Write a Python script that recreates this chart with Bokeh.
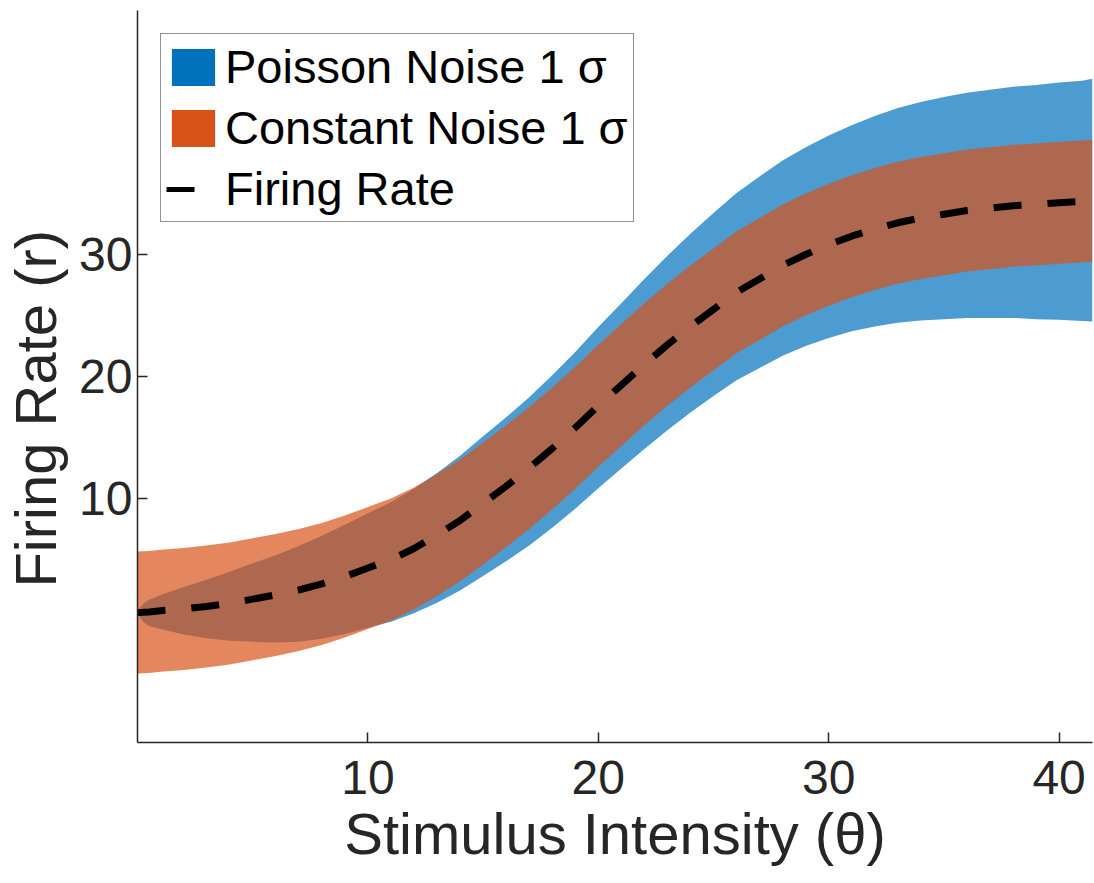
from bokeh.plotting import figure
from bokeh.models import Range1d, FixedTicker, Legend, LegendItem, ColumnDataSource
from bokeh.embed import file_html
from bokeh.resources import INLINE

# ---- data ----
theta = [0, 0.25, 0.5, 1, 2, 3, 4, 5, 6, 7, 8, 9, 10, 11, 12, 13, 14, 15, 16, 17,
         18, 19, 20, 21, 22, 23, 24, 25, 26, 27, 28, 29, 30, 31, 32, 33, 34, 35,
         36, 37, 38, 39, 40, 41, 41.45]
rate = [0.65, 0.67, 0.7, 0.8, 0.95, 1.15, 1.4, 1.75, 2.1, 2.5, 3.0, 3.6, 4.3, 5.0,
        5.9, 7.0, 8.2, 9.6, 11.0, 12.5, 14.1, 15.8, 17.6, 19.3, 21.0, 22.6, 24.1,
        25.5, 26.9, 28.0, 29.1, 30.0, 30.8, 31.5, 32.1, 32.6, 33.0, 33.3, 33.6,
        33.8, 34.0, 34.1, 34.25, 34.35, 34.4]
# Poisson 1-sigma band: distance of upper / lower edge from the rate curve
poisson_up = [0.1, 0.7, 1.0, 1.3, 1.8, 2.2, 2.6, 2.95, 3.25, 3.6, 3.95, 4.25, 4.5,
              4.7, 4.9, 5.1, 5.3, 5.5, 5.65, 5.8, 6.0, 6.2, 6.45, 6.7, 7.0, 7.3,
              7.6, 7.9, 8.15, 8.4, 8.6, 8.8, 8.95, 9.1, 9.25, 9.4, 9.5, 9.6,
              9.65, 9.7, 9.75, 9.8, 9.85, 9.9, 10.0]
poisson_down = [0.1, 0.8, 1.15, 1.5, 2.1, 2.6, 3.05, 3.5, 3.9, 4.25, 4.5, 4.7, 4.9,
                5.1, 5.3, 5.55, 5.75, 5.95, 6.15, 6.35, 6.5, 6.65, 6.75, 6.85, 6.95,
                7.0, 7.05, 7.1, 7.2, 7.3, 7.4, 7.5, 7.65, 7.8, 8.0, 8.2, 8.4,
                8.6, 8.8, 9.0, 9.2, 9.4, 9.6, 9.8, 9.9]
const_sigma = 5.0

x_ticks = [10, 20, 30, 40]
y_ticks = [10, 20, 30]
labels = ["Poisson Noise 1 \u03c3", "Constant Noise 1 \u03c3", "Firing Rate"]

src = ColumnDataSource(dict(
    theta=theta,
    rate=rate,
    plo=[r - s for r, s in zip(rate, poisson_down)],
    phi=[r + s for r, s in zip(rate, poisson_up)],
    clo=[r - const_sigma for r in rate],
    chi=[r + const_sigma for r in rate],
))

BLUE = "#0072BD"
ORANGE = "#D95319"
INK = "#262626"
FONT = "Liberation Sans"

p = figure(width=1094, height=883, output_backend="svg", toolbar_location=None,
           x_range=Range1d(0, 41.45), y_range=Range1d(-10, 50),
           min_border_left=137, min_border_right=2, min_border_top=10,
           min_border_bottom=141)
p.outline_line_color = None
p.xgrid.visible = False
p.ygrid.visible = False
p.background_fill_color = "white"
p.border_fill_color = "white"

p.varea(x="theta", y1="plo", y2="phi", source=src, fill_color=BLUE, fill_alpha=0.7)
p.varea(x="theta", y1="clo", y2="chi", source=src, fill_color=ORANGE, fill_alpha=0.7)
p.line(x="theta", y="rate", source=src, line_color="black", line_width=7,
       line_dash="28 26")

# legend proxies (full-opacity swatches, drawn outside the visible range)
lg_blue = p.varea(x=[-10, -9], y1=[0, 0], y2=[1, 1], fill_color=BLUE)
lg_orange = p.varea(x=[-10, -9], y1=[0, 0], y2=[1, 1], fill_color=ORANGE)
lg_line = p.line(x=[-10, -9], y=[0, 0], line_color="black", line_width=5,
                 line_dash="28 80")

legend = Legend(items=[LegendItem(label=labels[0], renderers=[lg_blue]),
                       LegendItem(label=labels[1], renderers=[lg_orange]),
                       LegendItem(label=labels[2], renderers=[lg_line])],
                location="top_left")
legend.label_text_font = FONT
legend.label_text_font_size = "47px"
legend.label_text_color = "black"
legend.glyph_width = 54
legend.glyph_height = 46
legend.label_height = 46
legend.label_standoff = 5
legend.spacing = 6
legend.padding = 5
legend.margin = 23
legend.border_line_color = INK
legend.border_line_width = 1.5
legend.background_fill_color = "white"
legend.background_fill_alpha = 1.0
p.add_layout(legend)

for ax in (p.xaxis[0], p.yaxis[0]):
    ax.axis_line_color = INK
    ax.axis_line_width = 1.5
    ax.major_tick_line_color = INK
    ax.major_tick_line_width = 1.5
    ax.major_tick_in = 10
    ax.major_tick_out = 0
    ax.minor_tick_line_color = None
    ax.major_label_text_font = FONT
    ax.major_label_text_font_size = "48px"
    ax.major_label_text_color = INK
    ax.axis_label_text_font = FONT
    ax.axis_label_text_font_size = "58px"
    ax.axis_label_text_font_style = "normal"
    ax.axis_label_text_color = INK

p.xaxis.ticker = FixedTicker(ticks=x_ticks)
p.yaxis.ticker = FixedTicker(ticks=y_ticks)
p.xaxis.axis_label = "Stimulus Intensity (\u03b8)"
# trailing no-break spaces shift the title a little below the frame centre,
# as in the reference
p.yaxis.axis_label = "Firing Rate (r)" + "\u00a0" * 4
p.xaxis.major_label_standoff = 18
p.yaxis.major_label_standoff = 5
p.xaxis.axis_label_standoff = 4
p.yaxis.axis_label_standoff = 8

open("out.html", "w").write(file_html(p, INLINE))
